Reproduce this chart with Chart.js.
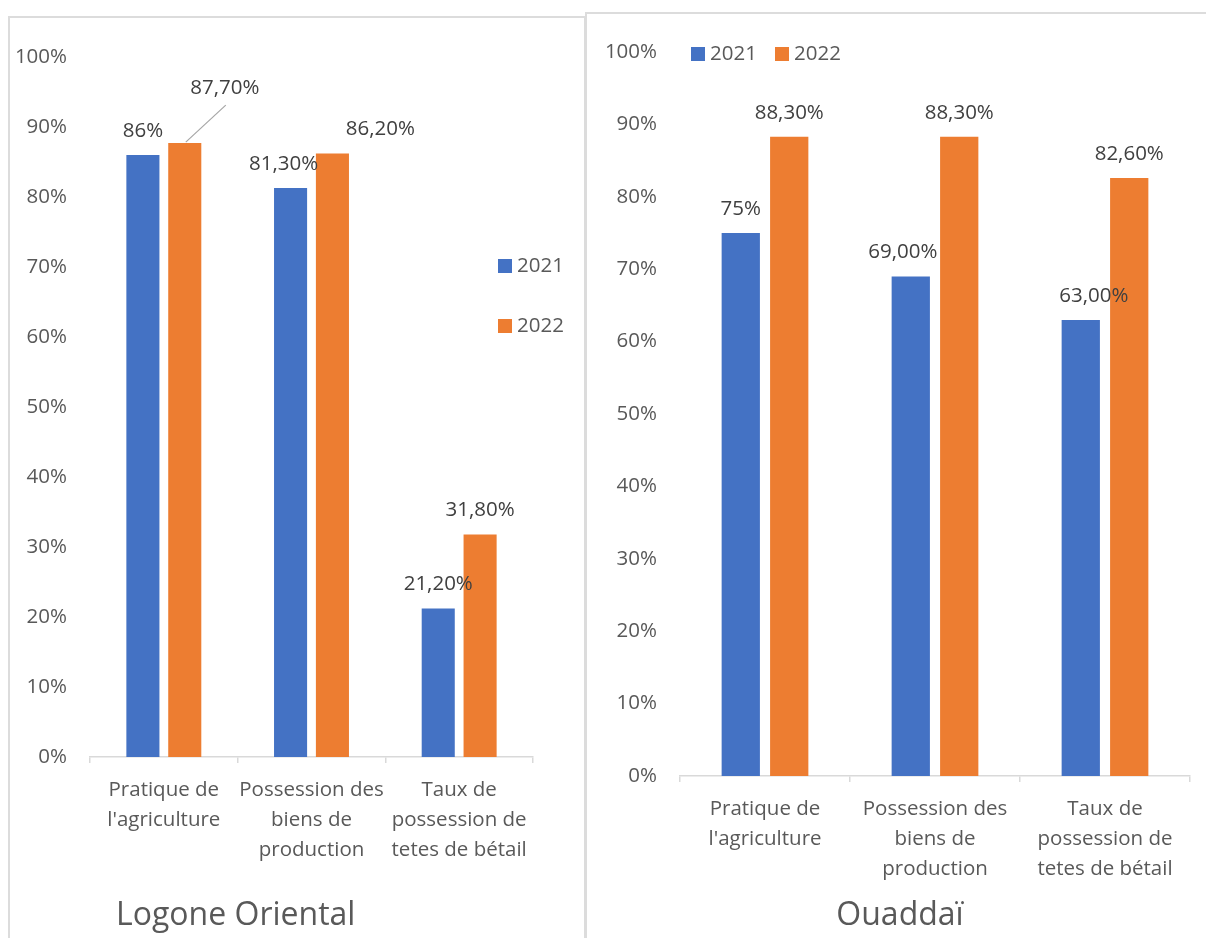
<!DOCTYPE html>
<html>
<head>
<meta charset="utf-8">
<script src="https://cdn.jsdelivr.net/npm/chart.js@4.4.1/dist/chart.umd.min.js"></script>
<style>
  html, body { margin: 0; padding: 0; background: #ffffff; width: 1206px; height: 938px; overflow: hidden; }
  .panel { position: absolute; border: 2px solid #dcdcdc; box-sizing: border-box; background: #fff; }
  canvas { position: absolute; }
  .title { position: absolute; font-family: "Open Sans", sans-serif; font-size: 32px; color: #595959; white-space: nowrap; line-height: 1; }
</style>
</head>
<body>
<div class="panel" id="p1" style="left:8px; top:16px; width:578px; height:940px;"></div>
<div class="panel" id="p2" style="left:585px; top:12px; width:640px; height:940px;"></div>
<canvas id="c1" style="left:10px; top:18px;"></canvas>
<canvas id="c2" style="left:587px; top:14px;"></canvas>
<div class="title" id="t1"></div>
<div class="title" id="t2"></div>
<script>
// ---- Data ----
const categories = [["Pratique de", "l'agriculture"], ["Possession des", "biens de", "production"], ["Taux de", "possession de", "tetes de bétail"]];
const seriesNames = ["2021", "2022"];
const yTicks = [0, 10, 20, 30, 40, 50, 60, 70, 80, 90, 100];

const logone2021 = [86, 81.3, 21.2];
const logone2022 = [87.7, 86.2, 31.8];
const logoneLabels2021 = ["86%", "81,30%", "21,20%"];
const logoneLabels2022 = ["87,70%", "86,20%", "31,80%"];

const ouaddai2021 = [75, 69, 63];
const ouaddai2022 = [88.3, 88.3, 82.6];
const ouaddaiLabels2021 = ["75%", "69,00%", "63,00%"];
const ouaddaiLabels2022 = ["88,30%", "88,30%", "82,60%"];

const titles = ["Logone Oriental", "Ouaddaï"];

// ---- Style (label placement tweaks, px) ----
const logoneShift2021 = [[0, 0], [-7, 0], [0, 0]];
const logoneShift2022 = [[40, -31, true], [48, 0], [0, 0]];
const ouaddaiShift2021 = [[0, 0], [-8, 0], [13, 0]];
const ouaddaiShift2022 = [[0, 0], [0, 0], [0, 0]];

const BLUE = "#4472C4";
const ORANGE = "#ED7D31";
const TICK = "#595959";
const LABEL = "#404040";
const AXIS = "#d9d9d9";
const FONT = "'Open Sans', sans-serif";
const FS = 20.5;

const labelPlugin = {
  id: "barLabels",
  afterDatasetsDraw(chart, args, opts) {
    const ctx = chart.ctx;
    ctx.save();
    ctx.font = FS + "px " + FONT;
    ctx.fillStyle = LABEL;
    ctx.textAlign = "center";
    ctx.textBaseline = "middle";
    chart.data.datasets.forEach((ds, di) => {
      const meta = chart.getDatasetMeta(di);
      meta.data.forEach((el, i) => {
        const sh = ds.shifts[i];
        const x = el.x + sh[0];
        const y = el.y - 24 + sh[1];
        if (sh[2]) {
          ctx.strokeStyle = "#a6a6a6";
          ctx.lineWidth = 1.2;
          ctx.beginPath();
          ctx.moveTo(el.x + 1, el.y - 1);
          ctx.lineTo(x + 1, y + 17);
          ctx.stroke();
        }
        ctx.fillText(ds.valueLabels[i], x, y);
      });
    });
    ctx.restore();
  }
};

const legendPlugin = {
  id: "customLegend",
  afterDraw(chart, args, opts) {
    const ctx = chart.ctx;
    ctx.save();
    ctx.font = FS + "px " + FONT;
    ctx.textAlign = "left";
    ctx.textBaseline = "middle";
    chart.data.datasets.forEach((ds, di) => {
      const p = opts.positions[di];
      ctx.fillStyle = ds.backgroundColor;
      ctx.fillRect(p[0], p[1], 14, 14);
      ctx.fillStyle = TICK;
      ctx.fillText(ds.label, p[0] + 19, p[1] + 7);
    });
    ctx.restore();
  }
};

function makeChart(id, w, h, d2021, d2022, l2021, l2022, s2021, s2022, layout) {
  const cv = document.getElementById(id);
  cv.width = w; cv.height = h;
  cv.style.width = w + "px"; cv.style.height = h + "px";
  return new Chart(cv, {
    type: "bar",
    data: {
      labels: categories,
      datasets: [
        { label: seriesNames[0], data: d2021, backgroundColor: BLUE, valueLabels: l2021, shifts: s2021,
          categoryPercentage: layout.cat, barPercentage: layout.bar },
        { label: seriesNames[1], data: d2022, backgroundColor: ORANGE, valueLabels: l2022, shifts: s2022,
          categoryPercentage: layout.cat, barPercentage: layout.bar }
      ]
    },
    options: {
      responsive: false,
      animation: false,
      devicePixelRatio: 1,
      layout: { padding: { left: 0, right: layout.padRight, top: layout.padTop, bottom: layout.padBottom } },
      plugins: {
        legend: { display: false },
        tooltip: { enabled: false },
        title: { display: false },
        customLegend: { positions: layout.legend }
      },
      scales: {
        x: {
          grid: { display: true, drawOnChartArea: false, drawTicks: true, tickLength: 6, color: AXIS, offset: true, lineWidth: 1.5 },
          border: { display: true, color: AXIS, width: 1.5 },
          ticks: { color: TICK, font: { family: FONT, size: FS, lineHeight: 1.463 }, padding: 12, maxRotation: 0, autoSkip: false },
          afterFit: (s) => { s.height = layout.xHeight; }
        },
        y: {
          min: 0, max: 100,
          afterBuildTicks: (s) => { s.ticks = yTicks.map(v => ({ value: v })); },
          grid: { display: false, drawTicks: false },
          border: { display: false },
          ticks: { color: TICK, font: { family: FONT, size: FS }, padding: 23, callback: (v) => v + "%" },
          afterFit: (s) => { s.width = layout.yWidth; }
        }
      }
    },
    plugins: [labelPlugin, legendPlugin]
  });
}

// Left: canvas at page (10,18); plot x 90..533, y 57..757
makeChart("c1", 574, 920, logone2021, logone2022, logoneLabels2021, logoneLabels2022, logoneShift2021, logoneShift2022,
  { cat: 0.567, bar: 0.79, padRight: 574 - (533 - 10), padTop: 57 - 18, xHeight: 150, padBottom: 920 - (757 - 18) - 150, yWidth: 90 - 10,
    legend: [[498 - 10, 259 - 18], [498 - 10, 319 - 18]] });

// Right: canvas at page (587,14); plot x 680..1190, y 52..776
makeChart("c2", 619, 924, ouaddai2021, ouaddai2022, ouaddaiLabels2021, ouaddaiLabels2022, ouaddaiShift2021, ouaddaiShift2022,
  { cat: 0.57, bar: 0.79, padRight: 619 - (1190 - 587), padTop: 52 - 14, xHeight: 120, padBottom: 924 - (776 - 14) - 120, yWidth: 680 - 587,
    legend: [[691 - 587, 47 - 14], [775 - 587, 47 - 14]] });

const t1 = document.getElementById("t1");
t1.textContent = titles[0];
t1.style.left = "116px"; t1.style.top = "897px";
const t2 = document.getElementById("t2");
t2.textContent = titles[1];
t2.style.left = "900px"; t2.style.top = "897px";
t2.style.transform = "translateX(-50%)";
</script>
</body>
</html>
